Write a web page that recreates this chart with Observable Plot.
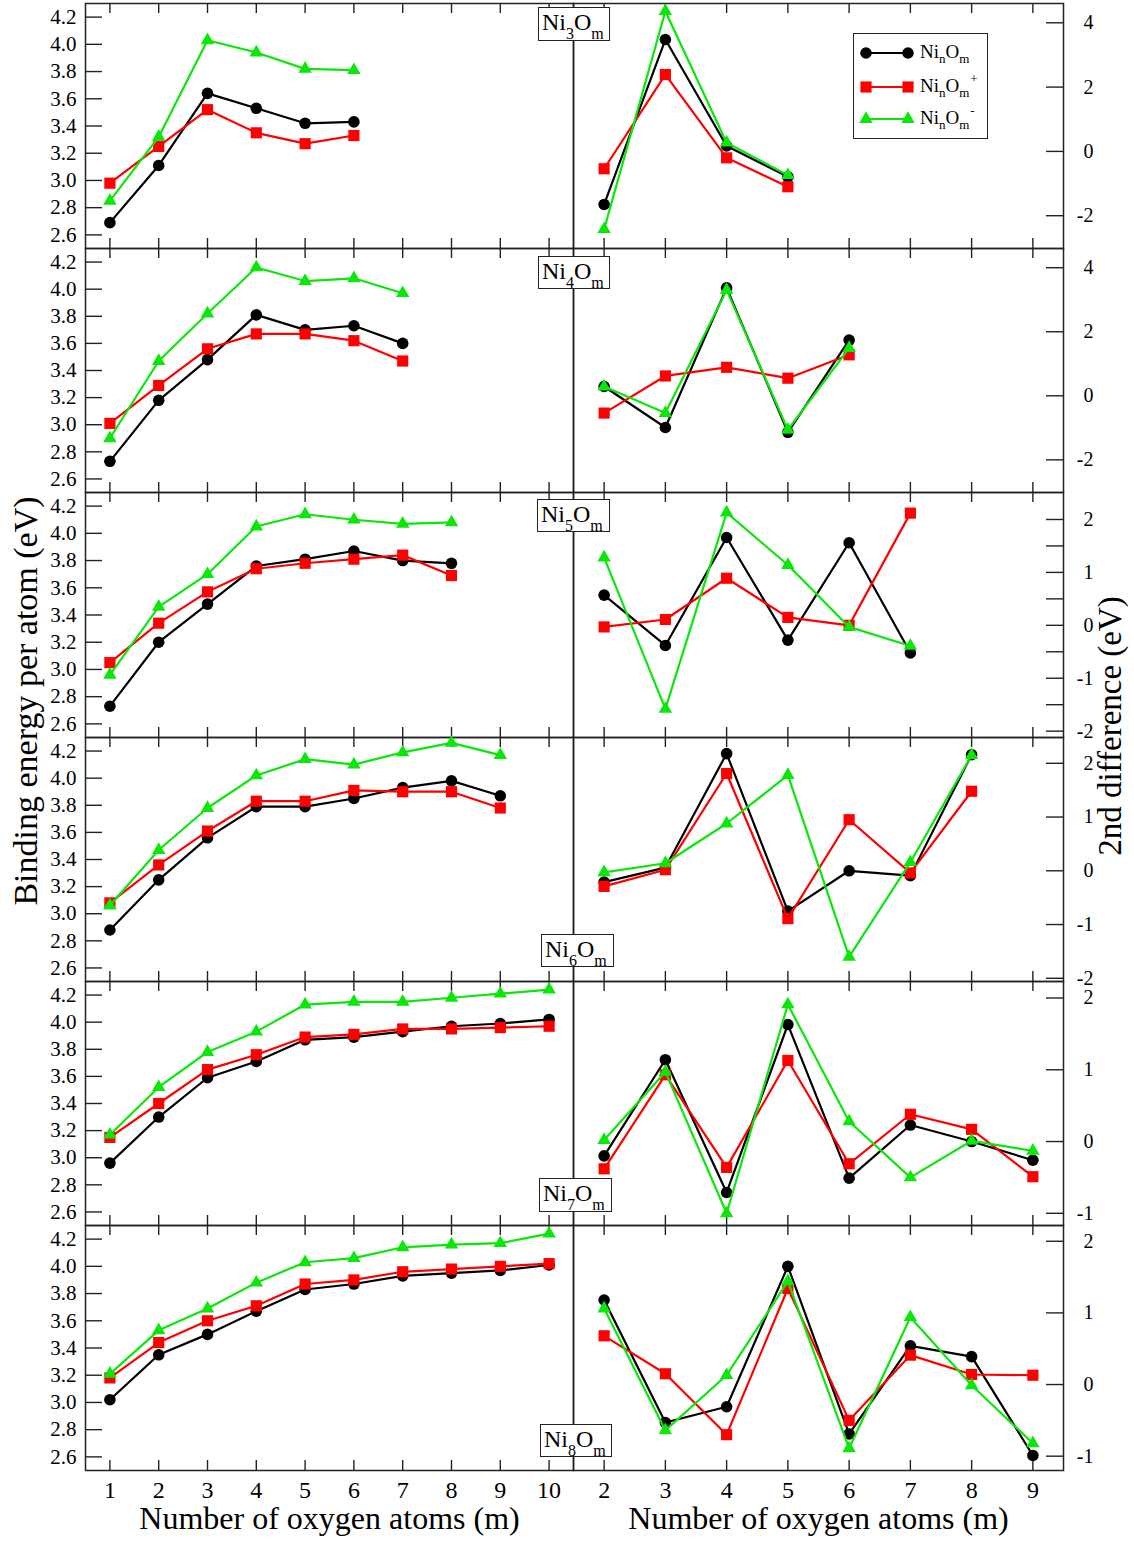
<!DOCTYPE html>
<html>
<head>
<meta charset="utf-8">
<script src="https://cdn.jsdelivr.net/npm/d3@7"></script>
<script src="https://cdn.jsdelivr.net/npm/@observablehq/plot@0.6"></script>
<style>
  html, body { margin: 0; padding: 0; background: #fff; }
  #fig { position: relative; width: 1134px; height: 1542px; overflow: hidden; font-family: "Liberation Serif", "Times New Roman", serif; color: #000; }
  #fig svg, #fig svg text { font-family: "Liberation Serif", "Times New Roman", serif !important; }
  .tag { position: absolute; box-sizing: border-box; border: 1.5px solid #222; background: #fff; font-size: 24px; line-height: 24px; padding: 2px 0 0 3px; white-space: nowrap; z-index: 5; }
  .tag .sb { font-size: 16px; position: relative; top: 9px; }
  .legend { position: absolute; box-sizing: border-box; border: 1.5px solid #222; background: #fff; z-index: 5; }
  .legend svg { position: absolute; overflow: visible; }
  .legend .lt { position: absolute; font-size: 19px; line-height: 19px; white-space: nowrap; }
  .legend .sb { font-size: 13px; position: relative; top: 5px; }
  .legend .sp { font-size: 13px; position: relative; top: -9px; margin-left: 1px; }
  .ytitle { position: absolute; transform: translate(-50%, -50%) rotate(-90deg); line-height: 1; white-space: nowrap; z-index: 6; }
</style>
</head>
<body>
<div id="fig"></div>
<script>
// ---------------- data ----------------
const clusterSizes = [3, 4, 5, 6, 7, 8];
const seriesNames = ["NinOm", "NinOm+", "NinOm-"];
const seriesCharge = ["", "+", "-"];
const mBinding = [1, 2, 3, 4, 5, 6, 7, 8, 9, 10];
const mSecond = [2, 3, 4, 5, 6, 7, 8, 9];
const bindingTicks = [2.6, 2.8, 3.0, 3.2, 3.4, 3.6, 3.8, 4.0, 4.2];
const xTitle = "Number of oxygen atoms (m)";
const leftTitle = "Binding energy per atom (eV)";
const rightTitle = "2nd difference (eV)";

// binding energy per atom (m = 1 ...)
const be_Ni3_neutral = [2.69, 3.11, 3.64, 3.53, 3.42, 3.43];
const be_Ni3_cation  = [2.98, 3.25, 3.52, 3.35, 3.27, 3.33];
const be_Ni3_anion   = [2.85, 3.32, 4.03, 3.94, 3.82, 3.81];
const be_Ni4_neutral = [2.73, 3.18, 3.48, 3.81, 3.70, 3.73, 3.60];
const be_Ni4_cation  = [3.01, 3.29, 3.56, 3.67, 3.67, 3.62, 3.47];
const be_Ni4_anion   = [2.90, 3.47, 3.82, 4.16, 4.06, 4.08, 3.97];
const be_Ni5_neutral = [2.73, 3.20, 3.48, 3.76, 3.81, 3.87, 3.80, 3.78];
const be_Ni5_cation  = [3.05, 3.34, 3.57, 3.74, 3.78, 3.81, 3.84, 3.69];
const be_Ni5_anion   = [2.96, 3.46, 3.70, 4.05, 4.14, 4.10, 4.07, 4.08];
const be_Ni6_neutral = [2.88, 3.25, 3.56, 3.79, 3.79, 3.85, 3.93, 3.98, 3.87];
const be_Ni6_cation  = [3.08, 3.36, 3.61, 3.83, 3.83, 3.91, 3.90, 3.90, 3.78];
const be_Ni6_anion   = [3.06, 3.47, 3.78, 4.02, 4.14, 4.10, 4.19, 4.26, 4.17];
const be_Ni7_neutral = [2.96, 3.30, 3.59, 3.71, 3.87, 3.89, 3.93, 3.97, 3.99, 4.02];
const be_Ni7_cation  = [3.15, 3.40, 3.65, 3.76, 3.89, 3.91, 3.95, 3.95, 3.96, 3.97];
const be_Ni7_anion   = [3.17, 3.52, 3.78, 3.93, 4.13, 4.15, 4.15, 4.18, 4.21, 4.24];
const be_Ni8_neutral = [3.02, 3.35, 3.50, 3.67, 3.83, 3.87, 3.93, 3.95, 3.97, 4.01];
const be_Ni8_cation  = [3.18, 3.44, 3.60, 3.71, 3.87, 3.90, 3.96, 3.98, 4.00, 4.02];
const be_Ni8_anion   = [3.21, 3.53, 3.69, 3.88, 4.03, 4.06, 4.14, 4.16, 4.17, 4.24];

// second difference (m = 2 ...)
const d2_Ni3_neutral = [-1.65, 3.48, 0.17, -0.79];
const d2_Ni3_cation  = [-0.54, 2.39, -0.20, -1.10];
const d2_Ni3_anion   = [-2.42, 4.36, 0.27, -0.74];
const d2_Ni4_neutral = [0.29, -0.99, 3.37, -1.14, 1.74];
const d2_Ni4_cation  = [-0.54, 0.62, 0.89, 0.55, 1.28];
const d2_Ni4_anion   = [0.29, -0.54, 3.30, -1.06, 1.49];
const d2_Ni5_neutral = [0.57, -0.38, 1.66, -0.28, 1.56, -0.52];
const d2_Ni5_cation  = [-0.03, 0.11, 0.89, 0.15, 0.00, 2.12];
const d2_Ni5_anion   = [1.28, -1.58, 2.13, 1.14, -0.03, -0.39];
const d2_Ni6_neutral = [-0.21, 0.06, 2.18, -0.75, 0.00, -0.09, 2.16];
const d2_Ni6_cation  = [-0.29, 0.02, 1.81, -0.89, 0.95, -0.04, 1.48];
const d2_Ni6_anion   = [-0.03, 0.14, 0.88, 1.78, -1.60, 0.16, 2.15];
const d2_Ni7_neutral = [-0.20, 1.14, -0.71, 1.63, -0.51, 0.23, 0.00, -0.26];
const d2_Ni7_cation  = [-0.38, 0.93, -0.36, 1.13, -0.31, 0.38, 0.17, -0.49];
const d2_Ni7_anion   = [0.02, 0.97, -1.00, 1.91, 0.28, -0.50, 0.01, -0.13];
const d2_Ni8_neutral = [1.18, -0.53, -0.31, 1.65, -0.69, 0.54, 0.39, -0.99];
const d2_Ni8_cation  = [0.68, 0.15, -0.70, 1.34, -0.50, 0.41, 0.14, 0.13];
const d2_Ni8_anion   = [1.06, -0.64, 0.13, 1.44, -0.89, 0.94, -0.01, -0.82];

// right-axis ticks per row
const d2Ticks_wide = [-2, 0, 2, 4];
const d2Ticks_Ni5 = [-2, -1.5, -1, -0.5, 0, 0.5, 1, 1.5, 2];
const d2Labels_mid = [-2, -1, 0, 1, 2];
const d2Ticks_Ni6 = [-2, -1, 0, 1, 2];
const d2Ticks_narrow = [-1, 0, 1, 2];

// ---------------- assembly / style ----------------
const beRows = [
  [be_Ni3_neutral, be_Ni3_cation, be_Ni3_anion],
  [be_Ni4_neutral, be_Ni4_cation, be_Ni4_anion],
  [be_Ni5_neutral, be_Ni5_cation, be_Ni5_anion],
  [be_Ni6_neutral, be_Ni6_cation, be_Ni6_anion],
  [be_Ni7_neutral, be_Ni7_cation, be_Ni7_anion],
  [be_Ni8_neutral, be_Ni8_cation, be_Ni8_anion]
];
const d2Rows = [
  [d2_Ni3_neutral, d2_Ni3_cation, d2_Ni3_anion],
  [d2_Ni4_neutral, d2_Ni4_cation, d2_Ni4_anion],
  [d2_Ni5_neutral, d2_Ni5_cation, d2_Ni5_anion],
  [d2_Ni6_neutral, d2_Ni6_cation, d2_Ni6_anion],
  [d2_Ni7_neutral, d2_Ni7_cation, d2_Ni7_anion],
  [d2_Ni8_neutral, d2_Ni8_cation, d2_Ni8_anion]
];
const d2TickSets = [d2Ticks_wide, d2Ticks_wide, d2Ticks_Ni5, d2Ticks_Ni6, d2Ticks_narrow, d2Ticks_narrow];
const d2LabelSets = [d2Ticks_wide, d2Ticks_wide, d2Labels_mid, d2Ticks_Ni6, d2Ticks_narrow, d2Ticks_narrow];
const d2Domains = [[-3.02, 4.6], [-3.02, 4.6], [-2.12, 2.51], [-2.06, 2.48], [-1.17, 2.23], [-1.2, 2.22]];

const seriesColors = ["#000000", "#ff0000", "#0be60b"];
const seriesSymbols = ["circle", "square", "triangle"];
const seriesRadius = [5.8, 6.3, 5.0];

const W = 1134, H = 1542;
const frameLeft = 85, frameDivide = 573, frameRight = 1063;
const rowEdges = [3, 248, 492, 737, 981, 1225, 1470];
const PAD = 12;
const frameColor = "#222";
const serif = "'Liberation Serif', 'Times New Roman', serif";

const fig = document.getElementById("fig");

function seriesMarks(ms, rows) {
  const marks = [];
  rows.forEach((vals, k) => {
    const data = vals.map((v, i) => ({m: ms[i], v}));
    marks.push(Plot.line(data, {x: "m", y: "v", stroke: seriesColors[k], strokeWidth: 2.2}));
    marks.push(Plot.dot(data, {x: "m", y: "v", symbol: seriesSymbols[k], r: seriesRadius[k], fill: seriesColors[k], stroke: "none"}));
  });
  return marks;
}

function panel(side, row) {
  const last = row === rowEdges.length - 2;
  const ft = rowEdges[row], fb = rowEdges[row + 1], fh = fb - ft;
  const mt = Math.min(PAD, ft);
  const mb = last ? H - fb : PAD;
  const isLeft = side === "left";
  const frameW = isLeft ? frameDivide - frameLeft : frameRight - frameDivide;
  const ml = isLeft ? frameLeft : PAD;
  const mr = isLeft ? PAD : W - frameRight;
  const xTicks = isLeft ? mBinding : mSecond;
  const marks = [
    Plot.tickX(xTicks, {x: d => d, insetTop: fh - 10, stroke: frameColor, strokeWidth: 1.4}),
    Plot.tickX(xTicks, {x: d => d, insetBottom: fh - 10, stroke: frameColor, strokeWidth: 1.4}),
    isLeft
      ? Plot.tickY(bindingTicks, {y: d => d, insetRight: frameW - 17, stroke: frameColor, strokeWidth: 1.4})
      : Plot.tickY(d2TickSets[row], {y: d => d, insetLeft: frameW - 17, stroke: frameColor, strokeWidth: 1.4}),
    isLeft
      ? Plot.axisY(bindingTicks, {anchor: "left", tickSize: 0, tickPadding: 9, tickFormat: d3.format(".1f"), fontSize: 21, label: null})
      : Plot.axisY(d2LabelSets[row], {anchor: "right", tickSize: 0, tickPadding: 30, textAnchor: "end", tickFormat: d => String(d), fontSize: 20, label: null}),
    Plot.frame({stroke: frameColor, strokeWidth: 1.5}),
    ...seriesMarks(xTicks, isLeft ? beRows[row] : d2Rows[row])
  ];
  if (last) {
    marks.push(Plot.axisX(xTicks, {anchor: "bottom", tickSize: 0, tickPadding: 10, fontSize: 24, tickFormat: d => String(d), label: null}));
    marks.push(Plot.text([xTitle], {text: d => d, frameAnchor: "bottom", dy: 48, fontSize: 32, lineAnchor: "middle"}));
  }
  const svg = Plot.plot({
    width: frameW + ml + mr,
    height: fh + mt + mb,
    marginLeft: ml, marginRight: mr, marginTop: mt, marginBottom: mb,
    x: {domain: isLeft ? [0.5, 10.5] : [1.5, 9.5], label: null, axis: last ? undefined : null},
    y: {domain: isLeft ? [2.5, 4.3] : d2Domains[row], label: null},
    style: {background: "transparent", fontSize: "21px", overflow: "visible", color: "#000"},
    marks
  });
  svg.style.position = "absolute";
  svg.style.left = (isLeft ? 0 : frameDivide - PAD) + "px";
  svg.style.top = (ft - mt) + "px";
  svg.style.fontFamily = serif;
  fig.appendChild(svg);
}

for (let r = 0; r < clusterSizes.length; r++) {
  panel("left", r);
  panel("right", r);
}

// cluster tags
const tagBoxes = [[538, 7, 72, 34], [538, 256, 72, 33], [537, 499, 73, 33], [541, 934, 73, 33], [539, 1178, 73, 34], [540, 1424, 72, 33]];
clusterSizes.forEach((n, i) => {
  const [l, t, w, h] = tagBoxes[i];
  const d = document.createElement("div");
  d.className = "tag";
  d.style.cssText = `left:${l}px;top:${t}px;width:${w}px;height:${h}px;`;
  d.innerHTML = `Ni<span class="sb">${n}</span>O<span class="sb">m</span>`;
  fig.appendChild(d);
});

// legend
const legend = document.createElement("div");
legend.className = "legend";
legend.style.cssText = "left:853px;top:33px;width:135px;height:106px;";
const legendRowsY = [19, 52.5, 84.5];
const symbolTypes = {circle: d3.symbolCircle, square: d3.symbolSquare, triangle: d3.symbolTriangle};
seriesNames.forEach((name, k) => {
  const cy = legendRowsY[k];
  const s = d3.create("svg").attr("width", 60).attr("height", 24)
    .style("left", "0px").style("top", (cy - 12) + "px");
  s.append("line").attr("x1", 12).attr("x2", 54).attr("y1", 12).attr("y2", 12)
    .attr("stroke", seriesColors[k]).attr("stroke-width", 2.2);
  const path = d3.symbol(symbolTypes[seriesSymbols[k]], Math.PI * seriesRadius[k] ** 2)();
  [12, 54].forEach(x => s.append("path").attr("d", path).attr("transform", `translate(${x},12)`).attr("fill", seriesColors[k]));
  legend.appendChild(s.node());
  const t = document.createElement("span");
  t.className = "lt";
  t.style.left = "66px";
  t.style.top = (cy - 11) + "px";
  t.innerHTML = `Ni<span class="sb">n</span>O<span class="sb">m</span>` + (seriesCharge[k] ? `<span class="sp">${seriesCharge[k]}</span>` : "");
  legend.appendChild(t);
});
fig.appendChild(legend);

// side titles
function sideTitle(text, x, y, size) {
  const d = document.createElement("div");
  d.className = "ytitle";
  d.style.left = x + "px";
  d.style.top = y + "px";
  d.style.fontSize = size + "px";
  d.textContent = text;
  fig.appendChild(d);
}
sideTitle(leftTitle, 26, 701, 34);
sideTitle(rightTitle, 1110, 726, 33);
</script>
</body>
</html>
